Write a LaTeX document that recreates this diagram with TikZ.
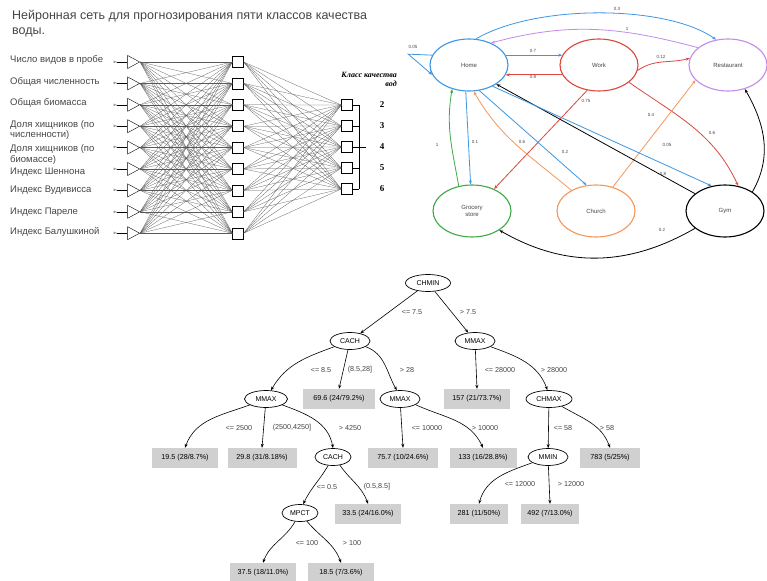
\documentclass[tikz,border=0pt]{standalone}
\usepackage{fontspec}
\setmainfont{Liberation Sans}
\newfontfamily\serifbi{Liberation Serif}
\usetikzlibrary{shapes.geometric,arrows.meta}
\definecolor{gblue}{RGB}{60,150,230}
\definecolor{gred}{RGB}{220,70,60}
\definecolor{gpurple}{RGB}{195,140,235}
\definecolor{ggreen}{RGB}{60,170,70}
\definecolor{gorange}{RGB}{245,150,90}
\definecolor{leafgray}{RGB}{208,208,208}
\definecolor{txt}{RGB}{70,70,70}
\begin{document}
\begin{tikzpicture}[x=1pt,y=1pt,
  inlab/.style={anchor=west, align=left, font=\fontsize{9.5}{10.5}\selectfont, text=txt, inner sep=0},
  tri/.style={isosceles triangle, draw, line width=0.4pt, inner sep=0, minimum width=13, minimum height=12, isosceles triangle stretches=true},
  sq/.style={rectangle, draw, line width=0.4pt, minimum size=11, inner sep=0, fill=white},
  nn/.style={line width=0.25pt, black!65},
  gnode/.style={ellipse, minimum width=78, minimum height=52, line width=1.1pt, font=\fontsize{6}{7}\selectfont, text=txt, align=center},
  ga/.style={-{Stealth[length=4pt,width=3pt]}, line width=0.8pt},
  gl/.style={font=\fontsize{4.5}{5}\selectfont, text=txt, inner sep=0.5pt},
  tn/.style={ellipse, draw, line width=0.7pt, fill=white, minimum width=40, minimum height=17, inner sep=1pt, font=\fontsize{7}{8}\selectfont},
  lf/.style={rectangle, fill=leafgray, minimum width=66, minimum height=20, inner sep=1pt, font=\fontsize{7.2}{8}\selectfont},
  ta/.style={-{Stealth[length=4pt,width=3pt]}, line width=0.6pt},
  tl/.style={font=\fontsize{7.2}{8}\selectfont, text=txt, inner sep=0}
]
\useasboundingbox (0,0) rectangle (767,-580);
\fill[white] (0,0) rectangle (767,-580);

% ---------------- Neural network ----------------
\node[anchor=north west, align=left, font=\fontsize{12.5}{15}\selectfont, text=txt, inner sep=0] (title) at (12,-10)
  {Нейронная сеть для прогнозирования пяти классов качества\\воды.};

\node[inlab] (l1) at (10,-60) {Число видов в пробе};
\node[inlab] (l2) at (10,-82) {Общая численность};
\node[inlab] (l3) at (10,-103) {Общая биомасса};
\node[inlab] (l4) at (10,-130) {Доля хищников (по\\численности)};
\node[inlab] (l5) at (10,-154.5) {Доля хищников (по\\биомассе)};
\node[inlab] (l6) at (10,-172) {Индекс Шеннона};
\node[inlab] (l7) at (10,-190) {Индекс Вудивисса};
\node[inlab] (l8) at (10,-212) {Индекс Пареле};
\node[inlab] (l9) at (10,-232) {Индекс Балушкиной};

\foreach \i in {1,...,9}{
  \node[tri] (in\i) at (131.5,{-62-21.4*(\i-1)}) {};
  \node[font=\fontsize{3.5}{4}\selectfont, inner sep=0.3pt] (im\i) at (115,{-62-21.4*(\i-1)}) {In};
  \draw[line width=0.3pt] (im\i.east) -- (in\i.west);
  \node[sq] (h\i) at (238,{-62-21.4*(\i-1)}) {};
}
\foreach \k/\yy in {1/105,2/126,3/147,4/168,5/189}{
  \node[sq] (o\k) at (347,-\yy) {};
  \coordinate (b\k) at (359,-\yy);
}
\foreach \i in {1,...,9}{
  \foreach \j in {1,...,9}{
    \draw[nn] (in\i.east) -- (h\j.west);
  }
  \foreach \k in {1,...,5}{
    \draw[nn] (h\i.east) -- (o\k.west);
  }
}
\foreach \k in {1,...,5}{ \draw[line width=0.3pt] (o\k.east) -- (b\k); }
\draw[line width=0.3pt] (b1) -- (b5);
\coordinate (bo) at (366,-147);
\draw[line width=0.3pt] (b3) -- (bo);

\node[anchor=north east, align=right, inner sep=0, font=\serifbi\bfseries\itshape\fontsize{8}{9.5}\selectfont] (hdr) at (397,-72) {Класс качества\\вод};
\foreach \k/\yy/\n in {1/105/2,2/126/3,3/147/4,4/168/5,5/189/6}{
  \node[font=\serifbi\bfseries\fontsize{9}{10}\selectfont, inner sep=0] (n\k) at (382,-\yy) {\n};
}

% ---------------- Graph ----------------
\node[gnode, draw=gblue] (home) at (469,-65) {Home};
\node[gnode, draw=gred] (work) at (599,-65) {Work};
\node[gnode, draw=gpurple] (rest) at (728,-65) {Restaurant};
\node[gnode, draw=ggreen] (groc) at (472,-211) {Grocery\\store};
\node[gnode, draw=gorange] (church) at (596,-211) {Church};
\node[gnode, draw=black] (gym) at (725,-211) {Gym};

\draw[ga,gblue] (home.75) .. controls +(60,35) and +(-50,35) .. (rest.115);
\draw[ga,gpurple] (rest.150) to[out=165,in=15] (home.45);
\draw[ga,gblue] (home.165) -- ++(-24,1) -- (home.195);
\draw[ga,gblue] (home.15) -- (work.165);
\draw[ga,gred] (work.195) -- (home.-15);
\draw[ga,gred] (work.-8) to[out=35,in=195] (rest.170);
\draw[ga,gred] (work.245) -- (groc.45);
\draw[ga,gred] (work.-30) to[out=-35,in=115] (gym.62);
\draw[ga,gorange] (church.55) -- (rest.205);
\draw[ga,black] (gym.35) to[out=60,in=-60] (rest.-55);
\draw[ga,black] (gym.150) -- (home.-35);
\draw[ga,black] (gym.-150) to[out=-150,in=-30] (groc.-35);
\draw[ga,gblue] (home.-97) -- (groc.93);
\draw[ga,ggreen] (groc.118) to[out=100,in=-100] (home.-125);
\draw[ga,gblue] (home.-68) -- (church.110);
\draw[ga,gblue] (home.-42) -- (gym.118);
\draw[ga,gorange] (church.140) to[out=140,in=-60] (home.-80);

\node[gl] (e1) at (617,-9) {0.3};
\node[gl] (e2) at (627,-29) {1};
\node[gl] (e3) at (413,-47) {0.05};
\node[gl] (e4) at (533,-51) {0.7};
\node[gl] (e5) at (533,-77) {0.8};
\node[gl] (e6) at (661,-57) {0.12};
\node[gl] (e7) at (586,-101) {0.75};
\node[gl] (e8) at (712,-133) {0.6};
\node[gl] (e9) at (651,-115) {0.4};
\node[gl] (e10) at (663,-174) {0.8};
\node[gl] (e11) at (662,-230) {0.2};
\node[gl] (e12) at (475,-142) {0.1};
\node[gl] (e13) at (437,-145) {1};
\node[gl] (e14) at (565,-152) {0.2};
\node[gl] (e15) at (667,-145) {0.05};
\node[gl] (e16) at (522,-142) {0.6};

% ---------------- Decision tree ----------------
\node[tn, minimum width=45] (chmin) at (428,-283) {CHMIN};
\node[tn] (cach) at (350,-341) {CACH};
\node[tn] (mmax2) at (475,-341) {MMAX};
\node[tn, minimum width=43] (mmax1) at (266,-399) {MMAX};
\node[lf, minimum width=72] (lf1) at (339,-399) {69.6 (24/79.2\%)};
\node[tn] (mmax3) at (400,-399) {MMAX};
\node[lf] (lf2) at (477,-399) {157 (21/73.7\%)};
\node[tn, minimum width=46] (chmax) at (549,-399) {CHMAX};
\node[lf] (lf3) at (185,-458) {19.5 (28/8.7\%)};
\node[lf, minimum width=69] (lf4) at (262,-458) {29.8 (31/8.18\%)};
\node[tn, minimum width=36] (cach2) at (333,-457) {CACH};
\node[lf, minimum width=70] (lf5) at (403,-458) {75.7 (10/24.6\%)};
\node[lf, minimum width=67] (lf6) at (483,-458) {133 (16/28.8\%)};
\node[tn] (mmin) at (548,-457) {MMIN};
\node[lf, minimum width=60] (lf7) at (610,-458) {783 (5/25\%)};
\node[tn, minimum width=36] (mpct) at (300,-513) {MPCT};
\node[lf] (lf8) at (368,-514) {33.5 (24/16.0\%)};
\node[lf, minimum width=58] (lf9) at (479,-514) {281 (11/50\%)};
\node[lf, minimum width=58] (lf10) at (550,-514) {492 (7/13.0\%)};
\node[lf] (lf11) at (263,-573) {37.5 (18/11.0\%)};
\node[lf] (lf12) at (341,-573) {18.5 (7/3.6\%)};

\draw[ta] (chmin) -- (cach);
\draw[ta] (chmin) -- (mmax2);
\draw[ta] (cach.200) to[out=200,in=60] (mmax1.60);
\draw[ta] (cach) -- (lf1.north);
\draw[ta] (cach.-20) to[out=-20,in=120] (mmax3.110);
\draw[ta] (mmax2) -- (lf2.north);
\draw[ta] (mmax2.-20) to[out=-20,in=110] (chmax.100);
\draw[ta] (mmax1.200) to[out=200,in=70] (lf3.north);
\draw[ta] (mmax1) -- (lf4.north);
\draw[ta] (mmax1.-20) to[out=-20,in=100] (cach2.90);
\draw[ta] (mmax3) -- (lf5.north);
\draw[ta] (mmax3.-20) to[out=-25,in=115] (lf6.north);
\draw[ta] (chmax) -- (mmin);
\draw[ta] (chmax.-30) to[out=-30,in=110] (lf7.north);
\draw[ta] (cach2.-120) to[out=-120,in=65] (mpct.70);
\draw[ta] (cach2.-50) to[out=-55,in=110] (lf8.north);
\draw[ta] (mmin.200) to[out=200,in=75] (lf9.north);
\draw[ta] (mmin) -- (lf10.north);
\draw[ta] (mpct.-120) to[out=-120,in=70] (lf11.north);
\draw[ta] (mpct.-50) to[out=-50,in=110] (lf12.north);

\node[tl] (t1) at (412,-312) {<= 7.5};
\node[tl] (t2) at (468,-312) {> 7.5};
\node[tl] (t3) at (321,-370) {<= 8.5};
\node[tl] (t4) at (360,-370) {(8.5,28]};
\node[tl] (t5) at (407,-370) {> 28};
\node[tl] (t6) at (500,-370) {<= 28000};
\node[tl] (t7) at (554,-370) {> 28000};
\node[tl] (t8) at (239,-428) {<= 2500};
\node[tl] (t9) at (292,-428) {(2500,4250]};
\node[tl] (t10) at (350,-428) {> 4250};
\node[tl] (t11) at (427,-428) {<= 10000};
\node[tl] (t12) at (485,-428) {> 10000};
\node[tl] (t13) at (563,-428) {<= 58};
\node[tl] (t14) at (607,-428) {> 58};
\node[tl] (t15) at (327,-487) {<= 0.5};
\node[tl] (t16) at (377,-487) {(0.5,8.5]};
\node[tl] (t17) at (520,-484) {<= 12000};
\node[tl] (t18) at (571,-484) {> 12000};
\node[tl] (t19) at (307,-543) {<= 100};
\node[tl] (t20) at (352,-543) {> 100};
\end{tikzpicture}
\end{document}
